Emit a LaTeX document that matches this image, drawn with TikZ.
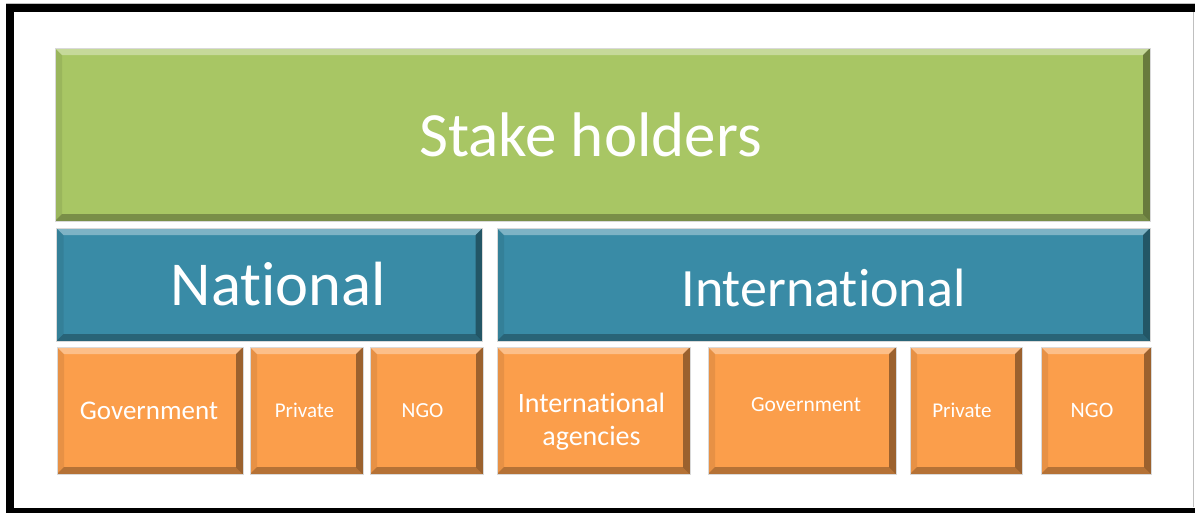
\documentclass[tikz,border=0pt]{standalone}
\usepackage{fontspec}
\setmainfont{Carlito}[Ligatures={NoCommon}]
\usepackage{tikz}
\definecolor{holdgreen}{RGB}{168,198,100}
\definecolor{levelblue}{RGB}{57,139,166}
\definecolor{partorange}{RGB}{251,158,75}
\tikzset{
	bevel/.style={path picture={
		\fill[white, opacity=0.35] (path picture bounding box.north west) -- (path picture bounding box.north east) -- ([shift={(-7pt,-7pt)}]path picture bounding box.north east) -- ([shift={(7pt,-7pt)}]path picture bounding box.north west) -- cycle;
		\fill[black, opacity=0.08] (path picture bounding box.north west) -- (path picture bounding box.south west) -- ([shift={(7pt,7pt)}]path picture bounding box.south west) -- ([shift={(7pt,-7pt)}]path picture bounding box.north west) -- cycle;
		\fill[black, opacity=0.38] (path picture bounding box.north east) -- (path picture bounding box.south east) -- ([shift={(-7pt,7pt)}]path picture bounding box.south east) -- ([shift={(-7pt,-7pt)}]path picture bounding box.north east) -- cycle;
		\fill[black, opacity=0.28] (path picture bounding box.south west) -- (path picture bounding box.south east) -- ([shift={(-7pt,7pt)}]path picture bounding box.south east) -- ([shift={(7pt,7pt)}]path picture bounding box.south west) -- cycle;
	}},
	tier/.style={rectangle, bevel, draw=black!15, line width=0.8pt, inner sep=0pt, text=white},
	rootbox/.style={tier, fill=holdgreen, minimum width=1095pt, minimum height=173pt},
	levelbox/.style={tier, fill=levelblue, minimum height=113pt},
	partbox/.style={tier, fill=partorange, minimum height=127pt}
}
\begin{document}
\begin{tikzpicture}[x=1pt, y=-1pt]
	\useasboundingbox (0,0) rectangle (1195,512);
	\fill[white] (0,0) rectangle (1195,512);
	\draw [gray!50, line width=1pt] (6,3) -- (1195,3);
	\draw [gray!50, line width=1pt] (1193,12) -- (1193,507);
	\draw [line width=8pt] (6,8) -- (1195,8);
	\draw [line width=8pt] (10,4) -- (10,512);
	\draw [line width=5pt] (6,510.5) -- (1195,510.5);
	\node[rootbox] (stake) at (602.5,134.5) {};
	\node[text=white, font=\fontsize{63}{74}\selectfont] at ([xshift=-12pt]stake.center) {Stake holders};
	\node[levelbox, minimum width=426pt] (national) at (269.5,284.5) {};
	\node[text=white, font=\fontsize{62.5}{74}\selectfont] at ([xshift=9pt]national.center) {National};
	\node[levelbox, minimum width=653pt] (international) at (823.5,284.5) {};
	\node[text=white, font=\fontsize{54}{64}\selectfont] at ([yshift=-3pt]international.center) {International};
	\foreach \nm/\xl/\xr/\fs/\dx/\dy/\txt in {
		ngov/57/243/27/-1/0/Government,
		npriv/250/363/21/-2/0/Private,
		nngo/370/483/21.5/-4/0/NGO,
		iagen/497/690/28/-2/-11/{International\\agencies},
		igov/708/896/21.5/4/6/Government,
		ipriv/910/1022/21/-4/0/Private,
		ingo/1041/1151/22/-4/0/NGO}
	{
		\node[partbox, minimum width=\xr pt-\xl pt] (\nm) at ({(\xl+\xr)/2},410.5) {};
		\node[text=white, align=center, font=\fontsize{\fs}{33}\selectfont] at ([shift={(\dx pt,\dy pt)}]\nm.center) {\txt};
	}
\end{tikzpicture}
\end{document}
